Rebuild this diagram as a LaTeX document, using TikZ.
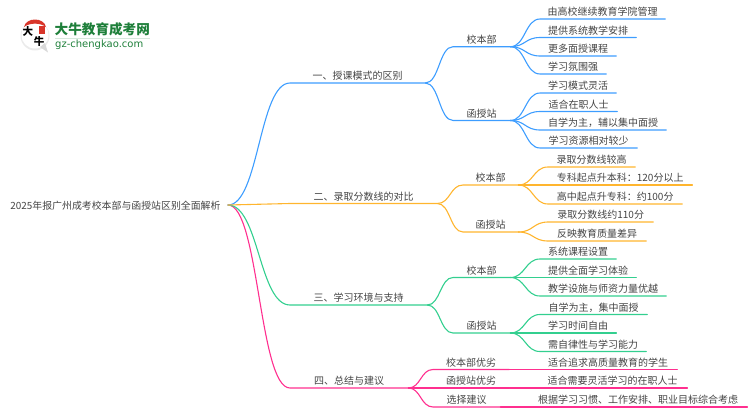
\documentclass[tikz,border=0pt]{standalone}
\usepackage{fontspec}
\setmainfont{Noto Sans CJK SC}
\newfontfamily\logolatin{DejaVu Sans}
\usetikzlibrary{calc}
\definecolor{cblue}{HTML}{3D9DFF}
\definecolor{corange}{HTML}{FFB52E}
\definecolor{cgreen}{HTML}{33CF8F}
\definecolor{cpink}{HTML}{FF2F8F}
\definecolor{ctext}{HTML}{444444}
\definecolor{clogo}{HTML}{1E7F3A}
\definecolor{cseal}{HTML}{D8352A}
\tikzset{
  lab/.style={anchor=south west,inner sep=0pt,minimum height=14pt,text=ctext,font=\fontsize{10}{10}\selectfont},
  wire/.style={line width=1.1pt,line cap=round},
}
% \seg{name}{x start}{line y}{x end}{text}
\newcommand{\seg}[5]{\node[lab,minimum width=#4pt-#2pt] (#1) at (#2pt,-#3pt) {#5};}
% \lnk{colour}{parent anchor}{child}
\newcommand{\lnk}[3]{%
  \draw[wire,#1] let \p1=(#2),\p2=(#3.south west),\n1={0.5*(\x1+\x2)} in
    (\p1) .. controls (\n1,\y1) and (\n1,\y2) .. (\p2) -- (#3.south east);}
\begin{document}
\begin{tikzpicture}[x=1pt,y=-1pt]
\useasboundingbox (0,0) rectangle (750,410);
% logo
\fill[white!92!black] (35,36) circle (14.5);
\fill[white] (35,35) circle (13.5);
\fill[white!85!black] (40,47) -- (48,52.5) -- (45,43) -- cycle;
\fill[cseal] (24,27) .. controls (26,17) and (44,17) .. (46,27) .. controls (40,22.5) and (30,22.5) .. (24,27) -- cycle;
\fill[cseal] (38.5,26) rectangle (44.5,33.5);
\node[inner sep=0pt,font=\fontsize{10.5}{10.5}\selectfont\bfseries,text=black] (logoa) at (28,31.5) {大};
\node[inner sep=0pt,font=\fontsize{10.5}{10.5}\selectfont\bfseries,text=black] (logob) at (39,42) {牛};
\node[inner sep=0pt,anchor=west,font=\fontsize{13.6}{14}\selectfont\bfseries,text=clogo] (logoc) at (54.5,29.5) {大牛教育成考网};
\fill[clogo!18] (54.5,38) rectangle (150,39);
\node[inner sep=0pt,anchor=west,font=\fontsize{10}{10}\selectfont\logolatin,text=clogo] (logod) at (55,45) {gz-chengkao.com};
% root
\node[inner sep=0pt,text=ctext,font=\fontsize{9.9}{10}\selectfont] (root) at (115.5,206) {2025年报广州成考校本部与函授站区别全面解析};
\coordinate (hub) at (228,205);
% level 1
\seg{b1}{290}{83}{425}{一、授课模式的区别}
\seg{b2}{290}{203.5}{437}{二、录取分数线的对比}
\seg{b3}{290}{305}{427}{三、学习环境与支持}
\seg{b4}{290}{388}{408}{四、总结与建议}
% blue
\seg{b1a}{453}{46.7}{510}{校本部}
\seg{b1b}{453}{120.5}{510}{函授站}
\seg{b1a1}{540}{19}{665}{由高校继续教育学院管理}
\seg{b1a2}{540}{37.5}{636}{提供系统教学安排}
\seg{b1a3}{540}{56}{616}{更多面授课程}
\seg{b1a4}{540}{74}{606}{学习氛围强}
\seg{b1b1}{540}{93}{616}{学习模式灵活}
\seg{b1b2}{540}{111.5}{617}{适合在职人士}
\seg{b1b3}{540}{130}{666}{自学为主，辅以集中面授}
\seg{b1b4}{540}{148}{637}{学习资源相对较少}
% orange
\seg{b2a}{463}{185}{518}{校本部}
\seg{b2b}{463}{232}{518}{函授站}
\seg{b2a1}{548}{167}{635}{录取分数线较高}
\seg{b2a2}{548}{185}{692}{专科起点升本科：120分以上}
\seg{b2a3}{548}{204}{682}{高中起点升专科：约100分}
\seg{b2b1}{548}{222}{653}{录取分数线约110分}
\seg{b2b2}{548}{241}{646}{反映教育质量差异}
% green
\seg{b3a}{453}{277.5}{510}{校本部}
\seg{b3b}{453}{333}{510}{函授站}
\seg{b3a1}{540}{259}{616}{系统课程设置}
\seg{b3a2}{540}{277.5}{636}{提供全面学习体验}
\seg{b3a3}{540}{296}{666}{教学设施与师资力量优越}
\seg{b3b1}{540}{314.5}{647}{自学为主，集中面授}
\seg{b3b2}{540}{333}{616}{学习时间自由}
\seg{b3b3}{540}{351.5}{646}{需自律性与学习能力}
% pink
\seg{b4a}{433}{369.5}{509}{校本部优劣}
\seg{b4b}{433}{388}{509}{函授站优劣}
\seg{b4c}{433}{407}{500}{选择建议}
\seg{b4a1}{539}{369.5}{677}{适合追求高质量教育的学生}
\seg{b4b1}{538}{388}{687}{适合需要灵活学习的在职人士}
\seg{b4c1}{529}{407}{747}{根据学习习惯、工作安排、职业目标综合考虑}
% connectors
\lnk{cpink}{hub}{b4}
\lnk{cgreen}{hub}{b3}
\lnk{cblue}{hub}{b1}
\lnk{corange}{hub}{b2}
\foreach \cc/\pp in {b1a/b1,b1b/b1,b1a1/b1a,b1a2/b1a,b1a3/b1a,b1a4/b1a,b1b1/b1b,b1b2/b1b,b1b3/b1b,b1b4/b1b}{\lnk{cblue}{\pp.south east}{\cc}}
\foreach \cc/\pp in {b2a/b2,b2b/b2,b2a1/b2a,b2a2/b2a,b2a3/b2a,b2b1/b2b,b2b2/b2b}{\lnk{corange}{\pp.south east}{\cc}}
\foreach \cc/\pp in {b3a/b3,b3b/b3,b3a1/b3a,b3a2/b3a,b3a3/b3a,b3b1/b3b,b3b2/b3b,b3b3/b3b}{\lnk{cgreen}{\pp.south east}{\cc}}
\foreach \cc/\pp in {b4a/b4,b4b/b4,b4c/b4,b4a1/b4a,b4b1/b4b,b4c1/b4c}{\lnk{cpink}{\pp.south east}{\cc}}
\end{tikzpicture}
\end{document}
